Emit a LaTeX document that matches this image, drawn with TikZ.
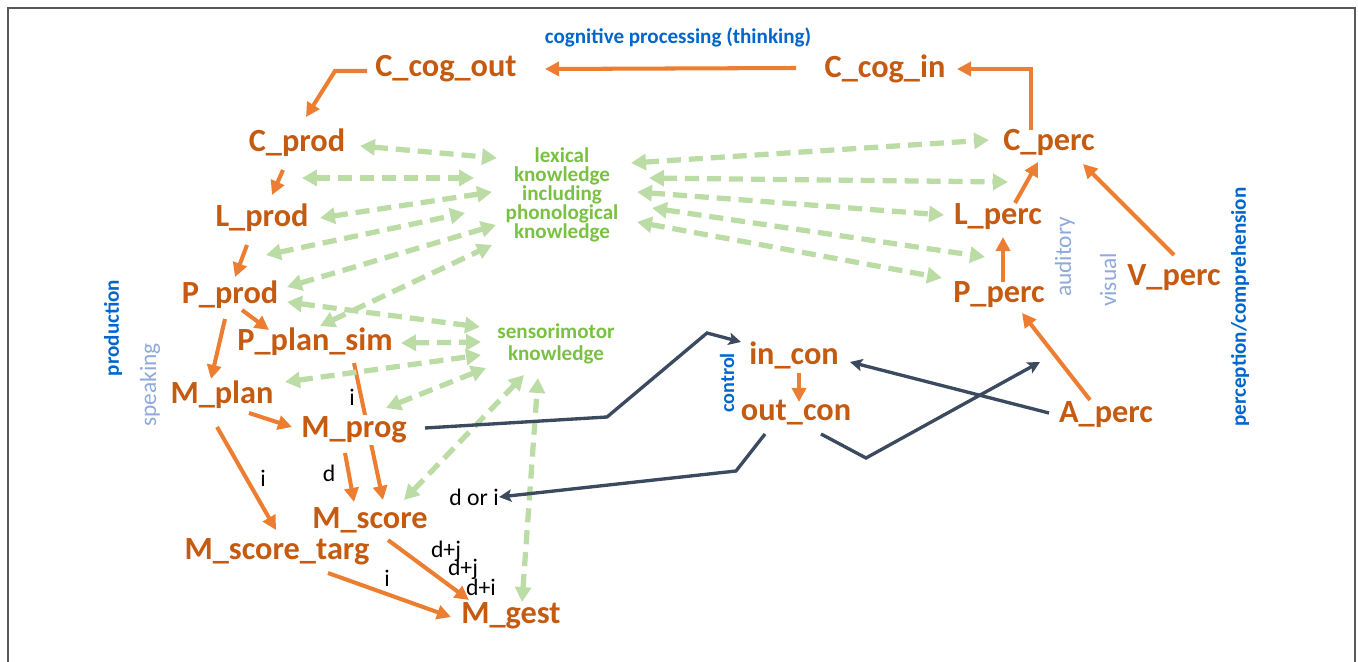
\documentclass[tikz,border=0pt]{standalone}
\usepackage{fontspec}
\setmainfont{Carlito}
\usetikzlibrary{arrows.meta,calc,backgrounds}

\definecolor{procText}{HTML}{C55A11}
\definecolor{procLine}{HTML}{ED7D31}
\definecolor{knowText}{HTML}{7AC143}
\definecolor{knowLine}{HTML}{BCDCA6}
\definecolor{ctrlLine}{HTML}{3B4A5E}
\definecolor{areaText}{HTML}{0066CC}
\definecolor{modeText}{HTML}{8EA9DB}

\tikzset{
  proc/.style={text=procText, font=\fontsize{18.4}{20}\selectfont\bfseries, inner sep=1pt},
  know/.style={text=knowText, font=\fontsize{12}{10.8}\selectfont\bfseries, align=center, inner sep=1pt},
  area/.style={text=areaText, font=\fontsize{12}{14}\selectfont\bfseries, inner sep=0pt},
  mode/.style={text=modeText, font=\fontsize{13.3}{15}\selectfont, inner sep=0pt},
  lab/.style={font=\fontsize{13.5}{15}\selectfont, inner sep=0pt},
  flow/.style={draw=procLine, line width=2.3pt, -{Triangle[length=8pt,width=8pt]}},
  assoc/.style={draw=knowLine, line width=3pt, dash pattern=on 8pt off 4.5pt,
    {Triangle[length=8.5pt,width=9pt]}-{Triangle[length=8.5pt,width=9pt]}},
  ctrl/.style={draw=ctrlLine, line width=1.9pt, -{Stealth[length=7pt,width=7pt,inset=1.5pt]}},
  frame/.style={draw=black!65, line width=0.9pt}
}

\begin{document}
\begin{tikzpicture}[x=0.02cm, y=-0.02cm]
  \useasboundingbox (0,0) rectangle (1358,662);
  \draw[frame] (8,662) -- (8,8) -- (1355,8) -- (1355,662);

  % Define nodes
  \node[proc] (cout) at (446,69) {C\_cog\_out};
  \node[proc] (cin) at (885,69) {C\_cog\_in};
  \node[proc] (cprod) at (297,143) {C\_prod};
  \node[proc] (lprod) at (262,218) {L\_prod};
  \node[proc] (pprod) at (230,295) {P\_prod};
  \node[proc] (psim) at (315,342) {P\_plan\_sim};
  \node[proc] (mplan) at (222,395) {M\_plan};
  \node[proc, fill=white] (mprog) at (354,430) {M\_prog};
  \node[proc] (mscore) at (370,520) {M\_score};
  \node[proc] (mtarg) at (277,552) {M\_score\_targ};
  \node[proc] (mgest) at (511,616) {M\_gest};
  \node[proc] (cperc) at (1049,142) {C\_perc};
  \node[proc] (lperc) at (998,217) {L\_perc};
  \node[proc] (pperc) at (999,295) {P\_perc};
  \node[proc] (vperc) at (1174,278) {V\_perc};
  \node[proc] (aperc) at (1106,415) {A\_perc};
  \node[proc] (incon) at (794,355) {in\_con};
  \node[proc] (outcon) at (796,413) {out\_con};

  \node[know] (lex) at (562,195) {lexical\\knowledge\\including\\phonological\\knowledge};
  \node[know, font=\fontsize{12}{12.3}\selectfont\bfseries] (sens) at (556,344) {sensorimotor\\knowledge};

  \node[area] (think) at (678,37) {cognitive processing (thinking)};
  \node[area, rotate=90] (prodn) at (113,328) {production};
  \node[area, rotate=90] (percn) at (1240,307) {perception/comprehension};
  \node[area, rotate=90, font=\fontsize{11.5}{13}\selectfont\bfseries] (ctrln) at (727,383) {control};
  \node[mode, rotate=90] (speak) at (150,385) {speaking};
  \node[mode, rotate=90] (audit) at (1065,257) {auditory};
  \node[mode, rotate=90] (visu) at (1108,280) {visual};

  \node[lab] (li1) at (352,397) {i};
  \node[lab] (ld1) at (329,473) {d};
  \node[lab] (li2) at (263,478) {i};
  \node[lab] (dori) at (474,497) {d or i};
  \node[lab] (ldj1) at (446,551) {d+j};
  \node[lab] (ldj2) at (463,569) {d+j};
  \node[lab] (ldi) at (481,587) {d+i};
  \node[lab] (li3) at (387,578) {i};

  \coordinate (fb) at (1040,362);

  % Connect the nodes
  \begin{scope}[on background layer]
  \draw[flow] ($(cin)+(-89,-1)$) -- ($(cout)+(99,0)$);
  \draw[flow] ($(cout)+(-79,2)$) -- (335,71) -- ($(cprod)+(9,-26)$);
  \draw[flow] ($(cperc)+(-18,-12)$) |- ($(cin)+(72,0)$);
  \draw[flow] ($(cprod)+(-14,27)$) -- ($(lprod)+(10,-23)$);
  \draw[flow] ($(lprod)+(-15,27)$) -- ($(pprod)+(5,-18)$);
  \draw[flow] ($(pprod)+(-5,24)$) -- ($(mplan)+(-11,-16)$);
  \draw[flow] ($(pprod)+(12,15)$) -- ($(psim)+(-46,-12)$);
  \draw[flow] ($(psim)+(39,21)$) -- ($(mscore)+(13,-20)$);
  \draw[flow] ($(mplan)+(27,18)$) -- ($(mprog)+(-62,-3)$);
  \draw[flow] ($(mplan)+(-5,32)$) -- ($(mtarg)+(-1,-22)$);
  \draw[flow] ($(mprog)+(-9,23)$) -- ($(mscore)+(-16,-18)$);
  \draw[flow] ($(mscore)+(18,20)$) -- ($(mgest)+(-42,-16)$);
  \draw[flow] ($(mtarg)+(51,21)$) -- ($(mgest)+(-60,1)$);
  \draw[flow] ($(incon)+(5,18)$) -- ($(outcon)+(3,-11)$);
  \draw[flow] ($(lperc)+(17,-14)$) -- ($(cperc)+(-11,20)$);
  \draw[flow] ($(pperc)+(4,-13)$) -- ($(lperc)+(5,20)$);
  \draw[flow] ($(vperc)+(0,-23)$) -- ($(cperc)+(34,22)$);
  \draw[flow] ($(aperc)+(-16,-15)$) -- ($(pperc)+(23,18)$);

  \draw[assoc] ($(cprod)+(63,3)$) -- ($(lex)+(-65,-37)$);
  \draw[assoc] ($(cprod)+(5,35)$) -- ($(lex)+(-88,-17)$);
  \draw[assoc] ($(lprod)+(58,0)$) -- ($(lex)+(-70,-3)$);
  \draw[assoc] ($(lprod)+(4,37)$) -- ($(lex)+(-97,18)$);
  \draw[assoc] ($(pprod)+(57,-8)$) -- ($(lex)+(-66,30)$);
  \draw[assoc] ($(psim)+(5,-16)$) -- ($(lex)+(-70,50)$);
  \draw[assoc] ($(pprod)+(57,7)$) -- ($(sens)+(-76,-17)$);
  \draw[assoc] ($(psim)+(86,1)$) -- ($(sens)+(-75,-2)$);
  \draw[assoc] ($(mplan)+(63,-13)$) -- ($(sens)+(-75,11)$);
  \draw[assoc] ($(mprog)+(32,-22)$) -- ($(sens)+(-70,24)$);
  \draw[assoc] ($(mscore)+(34,-20)$) -- ($(sens)+(-32,31)$);
  \draw[assoc] ($(mgest)+(11,-14)$) -- ($(sens)+(-18,34)$);
  \draw[assoc] ($(lex)+(69,-32)$) -- ($(cperc)+(-60,-2)$);
  \draw[assoc] ($(lex)+(87,-17)$) -- ($(cperc)+(-41,40)$);
  \draw[assoc] ($(lex)+(75,-3)$) -- ($(lperc)+(-54,-2)$);
  \draw[assoc] ($(lex)+(90,13)$) -- ($(lperc)+(-13,40)$);
  \draw[assoc] ($(lex)+(75,27)$) -- ($(pperc)+(-57,-17)$);

  \draw[ctrl] ($(mprog)+(71,-2)$) -- (607,417) -- (707,333) -- ($(incon)+(-53,-13)$);
  \draw[ctrl] ($(outcon)+(-31,21)$) -- (736,471) -- (dori.east);
  \draw[ctrl] ($(outcon)+(25,21)$) -- (866,458) -- (fb);
  \draw[ctrl] ($(aperc)+(-57,-2)$) -- ($(incon)+(56,7)$);
  \end{scope}
\end{tikzpicture}
\end{document}
